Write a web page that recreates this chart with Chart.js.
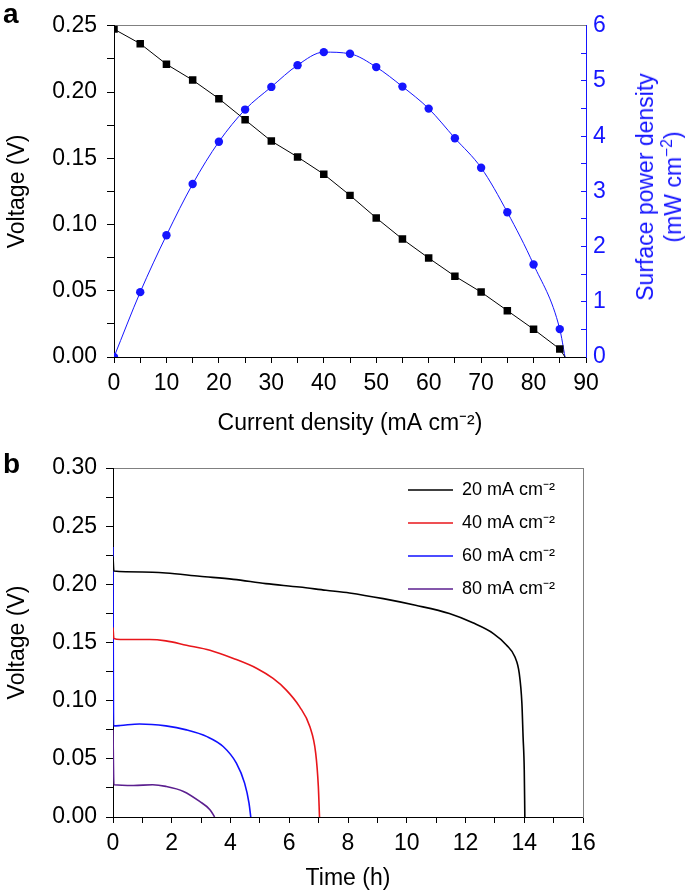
<!DOCTYPE html>
<html><head><meta charset="utf-8">
<script src="https://cdn.jsdelivr.net/npm/chart.js@4.4.1/dist/chart.umd.min.js"></script>
<style>
html,body{margin:0;padding:0;background:#fff;}
body{width:685px;height:893px;position:relative;overflow:hidden;font-family:'Liberation Sans',Arial,sans-serif;}
#c1{position:absolute;left:0;top:0;}
#c2{position:absolute;left:0;top:445px;}
.panel{position:absolute;font-weight:bold;font-size:28px;line-height:1;color:#000;}
#rtitle{position:absolute;left:659px;top:187px;transform:translate(-50%,-50%) rotate(-90deg);color:#1515ff;font-size:23px;line-height:28px;text-align:center;white-space:nowrap;}
sup{font-size:0.68em;line-height:0;vertical-align:0.6em;}
</style></head>
<body>
<canvas id="c1" width="685" height="445"></canvas>
<canvas id="c2" width="685" height="448"></canvas>
<div class="panel" style="left:3px;top:0px;">a</div>
<div class="panel" style="left:3px;top:450px;">b</div>
<div id="rtitle">Surface power density<br>(mW cm<sup>−2</sup>)</div>
<script>
// ---------- Panel a data ----------
const currentDensity = [0, 5, 10, 15, 20, 25, 30, 35, 40, 45, 50, 55, 60, 65, 70, 75, 80, 85, 86];
const voltageA = [0.2475, 0.2365, 0.221, 0.209, 0.195, 0.179, 0.163, 0.151, 0.138, 0.122, 0.105, 0.089, 0.0747, 0.061, 0.049, 0.035, 0.021, 0.006, 0];
const powerDensity = [0, 1.175, 2.205, 3.134, 3.90, 4.482, 4.893, 5.287, 5.523, 5.493, 5.252, 4.899, 4.5, 3.964, 3.429, 2.622, 1.676, 0.505, 0];
const markerShown = [1, 1, 1, 1, 1, 1, 1, 1, 1, 1, 1, 1, 1, 1, 1, 1, 1, 1, 0];

// ---------- Panel b data ----------
const seriesLabels = ['20 mA cm⁻²', '40 mA cm⁻²', '60 mA cm⁻²', '80 mA cm⁻²'];
const time20 = [0, 0.03, 1.0, 1.8, 2.95, 4.1, 5.2, 6.35, 7.25, 8.05, 9.2, 10.3, 11.45, 12.25, 12.95, 13.4, 13.68, 13.83, 13.92, 13.96, 14.0, 14.02];
const volt20 = [0.224, 0.2114, 0.2106, 0.2097, 0.2069, 0.2043, 0.2006, 0.1977, 0.1949, 0.1926, 0.1877, 0.182, 0.1749, 0.1669, 0.1577, 0.1477, 0.1377, 0.1234, 0.0977, 0.0691, 0.0406, 0];
const time40 = [0, 0.03, 0.25, 1.25, 1.8, 2.5, 3.3, 4.1, 4.9, 5.45, 5.9, 6.35, 6.7, 6.9, 6.99, 7.03];
const volt40 = [0.163, 0.1534, 0.1526, 0.1526, 0.1514, 0.1477, 0.1434, 0.1363, 0.1277, 0.1191, 0.1091, 0.0949, 0.0777, 0.0549, 0.0263, 0];
const time60 = [0, 0.02, 0.25, 0.9, 1.8, 2.5, 3.2, 3.75, 4.2, 4.48, 4.63, 4.69];
const volt60 = [0.232, 0.0783, 0.0786, 0.080, 0.0783, 0.0749, 0.0691, 0.0606, 0.0463, 0.0291, 0.012, 0];
const time80 = [0, 0.03, 0.7, 1.35, 1.8, 2.4, 2.95, 3.3, 3.46];
const volt80 = [0.075, 0.0277, 0.0271, 0.0277, 0.0263, 0.022, 0.0134, 0.0063, 0];

const xTicksA = [0, 10, 20, 30, 40, 50, 60, 70, 80, 90];
const yTicksA = ['0.00', '0.05', '0.10', '0.15', '0.20', '0.25'];
const y1TicksA = [0, 1, 2, 3, 4, 5, 6];
const xTicksB = [0, 2, 4, 6, 8, 10, 12, 14, 16];
const yTicksB = ['0.00', '0.05', '0.10', '0.15', '0.20', '0.25', '0.30'];

const BLUE = '#1515ff';
const GRAY = '#808080';
const FONT = {family: "'Liberation Sans', Arial, sans-serif", size: 23};

Chart.defaults.font.family = FONT.family;
Chart.defaults.font.size = 23;
Chart.defaults.color = '#000';
Chart.defaults.animation = false;

const zip = (xs, ys) => xs.map((x, i) => ({x: x, y: ys[i]}));
const isMult = (v, m) => Math.abs(v / m - Math.round(v / m)) < 1e-6;

// ---------- Chart a ----------
new Chart(document.getElementById('c1'), {
  type: 'line',
  data: {
    datasets: [
      {
        label: 'Voltage',
        data: zip(currentDensity, voltageA),
        yAxisID: 'y',
        borderColor: '#000',
        backgroundColor: '#000',
        borderWidth: 1,
        pointStyle: 'rect',
        pointRadius: markerShown.map(m => m ? 5.3 : 0),
        pointBorderWidth: 0,
        tension: 0
      },
      {
        label: 'Surface power density',
        data: zip(currentDensity, powerDensity),
        yAxisID: 'y1',
        borderColor: BLUE,
        backgroundColor: BLUE,
        borderWidth: 1,
        pointStyle: 'circle',
        pointRadius: markerShown.map(m => m ? 4.2 : 0),
        pointBorderWidth: 0,
        cubicInterpolationMode: 'monotone'
      }
    ]
  },
  options: {
    responsive: false,
    devicePixelRatio: 1,
    layout: {padding: {top: 18, left: 0, right: 0, bottom: 0}},
    plugins: {legend: {display: false}, tooltip: {enabled: false}},
    scales: {
      x: {
        type: 'linear', position: 'bottom', min: 0, max: 90,
        ticks: {stepSize: 5, autoSkip: false, maxRotation: 0, padding: 7, font: FONT, color: '#000',
          callback: v => xTicksA.includes(v) ? String(v) : ''},
        grid: {drawOnChartArea: false, tickLength: 6, tickColor: '#000', tickWidth: 1},
        border: {color: '#000', width: 1},
        title: {display: true, text: 'Current density (mA cm⁻²)', font: FONT, color: '#000', padding: {top: 0, bottom: 8}},
        afterFit: s => { s.height = 88; }
      },
      x2: {
        type: 'linear', position: 'top', min: 0, max: 90,
        ticks: {display: false},
        grid: {drawOnChartArea: false, drawTicks: false},
        border: {color: GRAY, width: 1},
        afterFit: s => { s.height = 0; }
      },
      y: {
        type: 'linear', position: 'left', min: 0, max: 0.25,
        ticks: {stepSize: 0.025, autoSkip: false, padding: 10, font: FONT, color: '#000',
          callback: v => isMult(v, 0.05) ? yTicksA[Math.round(v / 0.05)] : ''},
        grid: {drawOnChartArea: false, tickLength: 7, tickColor: '#000'},
        border: {color: '#000', width: 1},
        title: {display: true, text: 'Voltage (V)', font: FONT, color: '#000', padding: {top: 4, bottom: 0}},
        afterFit: s => { s.width = 114; }
      },
      y1: {
        type: 'linear', position: 'right', min: 0, max: 6,
        ticks: {stepSize: 0.5, autoSkip: false, padding: 12, font: FONT, color: BLUE,
          callback: v => isMult(v, 1) && y1TicksA.includes(Math.round(v)) ? String(Math.round(v)) : ''},
        grid: {drawOnChartArea: false, tickLength: -5, tickColor: BLUE},
        border: {color: BLUE, width: 1},
        afterFit: s => { s.width = 99; }
      }
    }
  }
});

// ---------- Chart b ----------
const legendMover = {
  id: 'legendMover',
  afterLayout(chart) {
    const lg = chart.legend;
    if (!lg) return;
    const w = lg.width;
    lg.left = 393;
    lg.right = lg.left + w;
    lg.top = 21;
  }
};

const lineDs = (label, xs, ys, color) => ({
  label: label,
  data: zip(xs, ys),
  borderColor: color,
  backgroundColor: color,
  borderWidth: 1.6,
  pointRadius: 0,
  pointStyle: 'line',
  cubicInterpolationMode: 'monotone'
});

new Chart(document.getElementById('c2'), {
  type: 'line',
  data: {
    datasets: [
      lineDs(seriesLabels[0], time20, volt20, '#000000'),
      lineDs(seriesLabels[1], time40, volt40, '#e8161b'),
      lineDs(seriesLabels[2], time60, volt60, '#1010ff'),
      lineDs(seriesLabels[3], time80, volt80, '#5b1f8f')
    ]
  },
  plugins: [legendMover],
  options: {
    responsive: false,
    devicePixelRatio: 1,
    layout: {padding: {top: 23, left: 0, right: 0, bottom: 0}},
    plugins: {
      tooltip: {enabled: false},
      legend: {
        display: true,
        position: 'chartArea',
        align: 'start',
        labels: {
          usePointStyle: true, pointStyle: 'line', pointStyleWidth: 45,
          padding: 15, color: '#000',
          font: {family: FONT.family, size: 18}
        }
      }
    },
    scales: {
      x: {
        type: 'linear', position: 'bottom', min: 0, max: 16,
        ticks: {stepSize: 1, autoSkip: false, maxRotation: 0, padding: 7, font: FONT, color: '#000',
          callback: v => xTicksB.includes(v) ? String(v) : ''},
        grid: {drawOnChartArea: false, tickLength: 6, tickColor: '#000'},
        border: {color: '#000', width: 1},
        title: {display: true, text: 'Time (h)', font: FONT, color: '#000', padding: {top: 0, bottom: 1}},
        afterFit: s => { s.height = 76; }
      },
      x2: {
        type: 'linear', position: 'top', min: 0, max: 16,
        ticks: {display: false},
        grid: {drawOnChartArea: false, drawTicks: false},
        border: {color: GRAY, width: 1},
        afterFit: s => { s.height = 0; }
      },
      y: {
        type: 'linear', position: 'left', min: 0, max: 0.3,
        ticks: {stepSize: 0.025, autoSkip: false, padding: 9, font: FONT, color: '#000',
          callback: v => isMult(v, 0.05) ? yTicksB[Math.round(v / 0.05)] : ''},
        grid: {drawOnChartArea: false, tickLength: 7, tickColor: '#000'},
        border: {color: '#000', width: 1},
        title: {display: true, text: 'Voltage (V)', font: FONT, color: '#000', padding: {top: 4, bottom: 0}},
        afterFit: s => { s.width = 113; }
      },
      y2: {
        type: 'linear', position: 'right', min: 0, max: 0.3,
        ticks: {display: false},
        grid: {drawOnChartArea: false, drawTicks: false},
        border: {color: GRAY, width: 1},
        afterFit: s => { s.width = 102; }
      }
    }
  }
});
</script>
</body></html>
